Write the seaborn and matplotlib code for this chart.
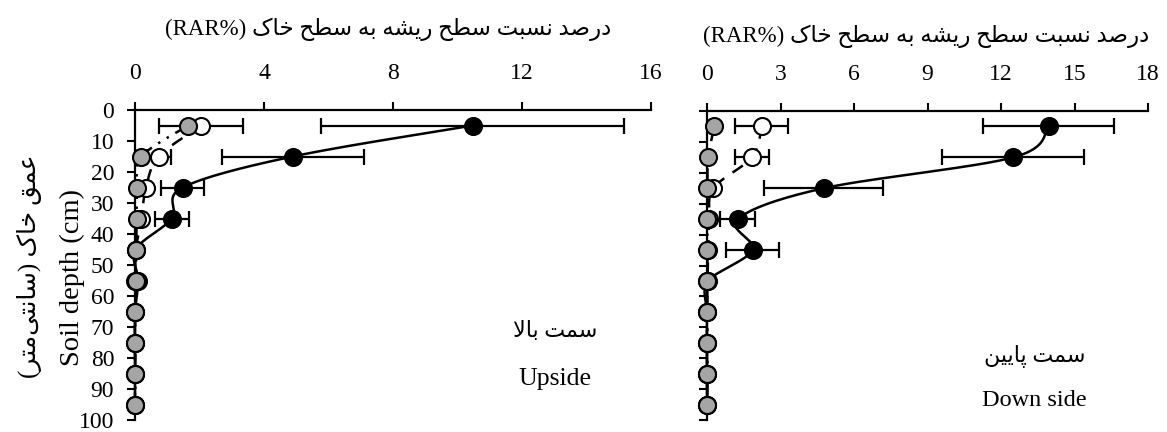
import re
import numpy as np
import matplotlib
matplotlib.use("Agg")
import matplotlib.pyplot as plt
import seaborn as sns

# ---------------- data ----------------
depth = [5, 15, 25, 35, 45, 55, 65, 75, 85, 95]
x_ticks_up = [0, 4, 8, 12, 16]
x_ticks_down = [0, 3, 6, 9, 12, 15, 18]
y_ticks = [0, 10, 20, 30, 40, 50, 60, 70, 80, 90, 100]

up_black = [10.47, 4.89, 1.48, 1.14, 0.02, 0.10, 0.0, 0.0, 0.0, 0.0]
up_black_err = [4.69, 2.20, 0.67, 0.53, 0, 0, 0, 0, 0, 0]
up_white = [2.05, 0.74, 0.34, 0.20, 0.03, 0.01, 0.0, 0.0, 0.0, 0.0]
up_white_err = [1.30, 0.37, 0, 0, 0, 0, 0, 0, 0, 0]
up_grey = [1.65, 0.20, 0.07, 0.05, 0.04, 0.02, 0.01, 0.01, 0.01, 0.01]

dn_black = [13.94, 12.50, 4.76, 1.25, 1.86, 0.05, 0.0, 0.0, 0.0, 0.0]
dn_black_err = [2.68, 2.90, 2.43, 0.72, 1.09, 0, 0, 0, 0, 0]
dn_white = [2.24, 1.83, 0.26, 0.10, 0.05, 0.02, 0.0, 0.0, 0.0, 0.0]
dn_white_err = [1.08, 0.69, 0, 0, 0, 0, 0, 0, 0, 0]
dn_grey = [0.30, 0.05, 0.02, 0.02, 0.02, 0.02, 0.02, 0.02, 0.02, 0.02]

title_fa = "درصد نسبت سطح ریشه به سطح خاک (RAR%)"
ylabel_en = "Soil depth (cm)"
ylabel_fa = "عمق خاک (سانتی\u200cمتر)"
up_fa, up_en = "سمت بالا", "Upside"
dn_fa, dn_en = "سمت پایین", "Down side"

# ---------------- minimal Arabic-script shaping ----------------
FORMS = {
    'ا': ('\uFE8D', '\uFE8E', None, None),
    'ب': ('\uFE8F', '\uFE90', '\uFE91', '\uFE92'),
    'پ': ('\uFB56', '\uFB57', '\uFB58', '\uFB59'),
    'ت': ('\uFE95', '\uFE96', '\uFE97', '\uFE98'),
    'ح': ('\uFEA1', '\uFEA2', '\uFEA3', '\uFEA4'),
    'خ': ('\uFEA5', '\uFEA6', '\uFEA7', '\uFEA8'),
    'د': ('\uFEA9', '\uFEAA', None, None),
    'ر': ('\uFEAD', '\uFEAE', None, None),
    'س': ('\uFEB1', '\uFEB2', '\uFEB3', '\uFEB4'),
    'ش': ('\uFEB5', '\uFEB6', '\uFEB7', '\uFEB8'),
    'ص': ('\uFEB9', '\uFEBA', '\uFEBB', '\uFEBC'),
    'ط': ('\uFEC1', '\uFEC2', '\uFEC3', '\uFEC4'),
    'ع': ('\uFEC9', '\uFECA', '\uFECB', '\uFECC'),
    'ق': ('\uFED5', '\uFED6', '\uFED7', '\uFED8'),
    'ک': ('\uFB8E', '\uFB8F', '\uFB90', '\uFB91'),
    'ل': ('\uFEDD', '\uFEDE', '\uFEDF', '\uFEE0'),
    'م': ('\uFEE1', '\uFEE2', '\uFEE3', '\uFEE4'),
    'ن': ('\uFEE5', '\uFEE6', '\uFEE7', '\uFEE8'),
    'ه': ('\uFEE9', '\uFEEA', '\uFEEB', '\uFEEC'),
    'ی': ('\uFBFC', '\uFBFD', '\uFBFE', '\uFBFF'),
}


def _dual(c):
    return c in FORMS and FORMS[c][2] is not None


def shape(text):
    out, i, n = [], 0, len(text)
    while i < n:
        c = text[i]
        if c == 'ل' and i + 1 < n and text[i + 1] == 'ا':
            jp = i > 0 and _dual(text[i - 1])
            out.append('\uFEFC' if jp else '\uFEFB')
            i += 2
            continue
        if c in FORMS:
            jp = i > 0 and _dual(text[i - 1])
            jn = _dual(c) and i + 1 < n and text[i + 1] in FORMS
            iso, fin, ini, med = FORMS[c]
            out.append(med if (jp and jn) else fin if jp else ini if jn else iso)
        elif c != '\u200c':
            out.append(c)
        i += 1
    return ''.join(out)


def visual(text):
    s = shape(text)[::-1]
    s = re.sub(r'[A-Za-z0-9%]+', lambda m: m.group(0)[::-1], s)
    return s.translate(str.maketrans('()', ')('))


def smooth(xs, ys, sx, sy, n=30):
    P = np.column_stack([np.asarray(xs, float) * sx, np.asarray(ys, float) * sy])
    P = np.vstack([P[0], P, P[-1]])
    t = np.linspace(0, 1, n)[:, None]
    segs = []
    for i in range(1, len(P) - 2):
        p0, p1, p2, p3 = P[i - 1], P[i], P[i + 1], P[i + 2]
        segs.append(0.5 * (2 * p1 + (-p0 + p2) * t + (2 * p0 - 5 * p1 + 4 * p2 - p3) * t ** 2
                           + (-p0 + 3 * p1 - 3 * p2 + p3) * t ** 3))
    S = np.vstack(segs)
    return S[:, 0] / sx, S[:, 1] / sy


# ---------------- figure ----------------
sns.set_theme(style="white")
plt.rcParams['font.family'] = ['Liberation Serif', 'DejaVu Sans']
plt.rcParams['axes.unicode_minus'] = False

W, H = 1167, 432
fig = plt.figure(figsize=(W / 100, H / 100), dpi=100)
fig.patch.set_facecolor('white')


def ax_at(l, t, r, b):
    return fig.add_axes([l / W, 1 - b / H, (r - l) / W, (b - t) / H])


ax1 = ax_at(135, 110, 651, 420)
ax2 = ax_at(707, 111, 1148, 420)

GREY = '#a5a5a5'
LW = 1.8

panels = [
    (ax1, 16, x_ticks_up, up_black, up_black_err, up_white, up_white_err, up_grey, 516, 310),
    (ax2, 18, x_ticks_down, dn_black, dn_black_err, dn_white, dn_white_err, dn_grey, 441, 309),
]

for ax, xmax, xt, blk, blk_e, wht, wht_e, gry, pw, ph in panels:
    ax.set_facecolor('white')
    sx, sy = pw / xmax, ph / 100.0
    # lines
    bx, by = smooth(blk, depth, sx, sy)
    ax.plot(bx, by, color='black', lw=LW, zorder=2, clip_on=False)
    wx, wy = smooth(wht, depth, sx, sy)
    ax.plot(wx, wy, color='black', lw=LW, ls=(0, (5, 4)), zorder=3, clip_on=False)
    gx, gy = smooth(gry, depth, sx, sy)
    ax.plot(gx, gy, color='black', lw=LW, ls=(0, (6, 3, 1, 3, 1, 3)), zorder=4, clip_on=False)
    # error bars
    for vals, errs, z in ((blk, blk_e, 2.5), (wht, wht_e, 3.5)):
        idx = [i for i, e in enumerate(errs) if e > 0]
        ax.errorbar([vals[i] for i in idx], [depth[i] for i in idx],
                    xerr=[errs[i] for i in idx], fmt='none', ecolor='black',
                    elinewidth=1.6, capsize=5.5, capthick=1.6, zorder=z)
    # markers
    sns.scatterplot(x=blk, y=depth, ax=ax, s=150, color='black', edgecolor='black',
                    linewidth=1.5, zorder=5, clip_on=False, legend=False)
    sns.scatterplot(x=wht, y=depth, ax=ax, s=150, color='white', edgecolor='black',
                    linewidth=1.5, zorder=6, clip_on=False, legend=False)
    sns.scatterplot(x=gry, y=depth, ax=ax, s=150, color=GREY, edgecolor='black',
                    linewidth=1.5, zorder=7, clip_on=False, legend=False)

    ax.set_xlim(0, xmax)
    ax.set_ylim(100, 0)
    ax.set_xticks(xt)
    ax.set_yticks(y_ticks)
    ax.xaxis.tick_top()
    ax.set_xlabel('')
    ax.set_ylabel('')
    for sp in ('right', 'bottom'):
        ax.spines[sp].set_visible(False)
    for sp in ('top', 'left'):
        ax.spines[sp].set_visible(True)
        ax.spines[sp].set_color('black')
        ax.spines[sp].set_linewidth(1.6)
    ax.tick_params(axis='x', direction='out', length=6, width=1.5, pad=13,
                   labelsize=17, colors='black', top=True, bottom=False)
    ax.tick_params(axis='y', direction='out', length=6, width=1.5, pad=9,
                   labelsize=17, colors='black', left=True)
    ax.grid(False)

ax2.tick_params(axis='y', labelleft=False)


def ftext(x, y, s, **kw):
    fig.text(x / W, 1 - y / H, s, ha='center', va='center', color='black', **kw)


ftext(388, 29, visual(title_fa), fontsize=16.5)
ftext(926, 36, visual(title_fa), fontsize=16.5)
ftext(72, 278, ylabel_en, fontsize=20.5, rotation=90)
ftext(30, 266, visual(ylabel_fa), fontsize=18, rotation=90)
ftext(555, 332, visual(up_fa), fontsize=16)
ftext(555, 379, up_en, fontsize=18.5)
ftext(1035, 356, visual(dn_fa), fontsize=16)
ftext(1034, 400, dn_en, fontsize=17.5)

fig.savefig('out.png', dpi=100, facecolor='white')
